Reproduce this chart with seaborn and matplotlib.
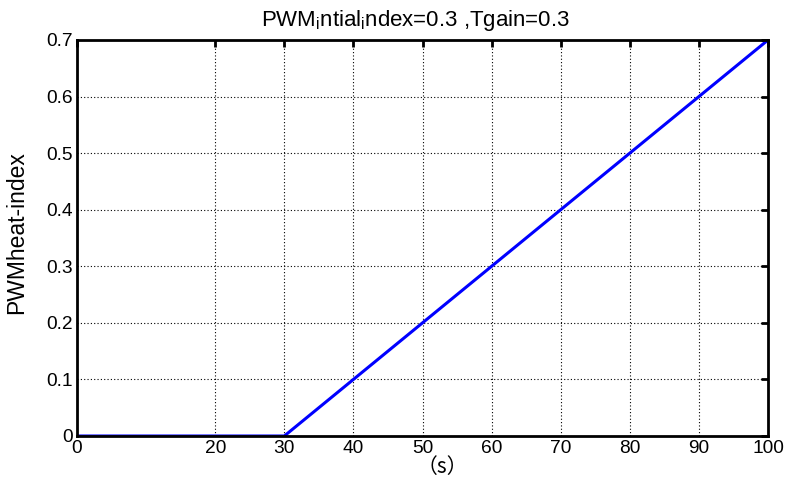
import matplotlib
matplotlib.use("Agg")
import matplotlib.pyplot as plt
import seaborn as sns
import pandas as pd

# Heat-index ramp: zero until 30 s, then rising linearly to 0.7 at 100 s
time_s = [0, 20, 30, 40, 50, 60, 70, 80, 90, 100]
heat_index = [0.0, 0.0, 0.0, 0.1, 0.2, 0.3, 0.4, 0.5, 0.6, 0.7]
x_ticks = [0, 20, 30, 40, 50, 60, 70, 80, 90, 100]
y_ticks = [0, 0.1, 0.2, 0.3, 0.4, 0.5, 0.6, 0.7]
y_tick_labels = ["0", "0.1", "0.2", "0.3", "0.4", "0.5", "0.6", "0.7"]

df = pd.DataFrame({"t": time_s, "h": heat_index})

sns.set_theme(style="white")
plt.rcParams["font.family"] = ["Liberation Sans", "Noto Sans CJK SC", "DejaVu Sans"]
plt.rcParams["mathtext.fontset"] = "custom"
plt.rcParams["mathtext.rm"] = "Liberation Sans"
plt.rcParams["mathtext.it"] = "Liberation Sans"

fig = plt.figure(figsize=(7.89, 4.78), dpi=100)
ax = fig.add_axes([77 / 789, 42 / 478, 691 / 789, 396 / 478])

sns.lineplot(data=df, x="t", y="h", ax=ax, color="#0000ff", linewidth=2.2)

ax.set_xlim(0, 100)
ax.set_ylim(0, 0.7)
ax.set_xticks(x_ticks)
ax.set_xticklabels([str(v) for v in x_ticks])
ax.set_yticks(y_ticks)
ax.set_yticklabels(y_tick_labels)

ax.grid(True, color="black", linestyle=(0, (1, 2)), linewidth=0.8)
for s in ax.spines.values():
    s.set_color("black")
    s.set_linewidth(2.0)
ax.tick_params(direction="in", length=5, width=2, colors="black",
               top=True, right=True, labelsize=13.8, pad=3)
for lab in ax.get_xticklabels() + ax.get_yticklabels():
    lab.set_color("black")

title = ax.set_title(r"PWM$_\mathrm{i}$ntial$_\mathrm{i}$ndex=0.3 ,Tgain=0.3",
                     fontsize=16, color="black", pad=10)
title.set_x(0.49)
ax.set_xlabel("（s）", fontsize=15, color="black",
              family=["Noto Sans CJK SC"])
ax.xaxis.label.set_va("center")
ax.xaxis.set_label_coords((442 - 77) / 691, -(467 - 436) / 396)
ax.set_ylabel("PWMheat-index", fontsize=16.5, color="black")
ax.yaxis.set_label_coords((28 - 77) / 691, (436 - 233) / 396)

fig.savefig("out.png", dpi=100, facecolor="white")
